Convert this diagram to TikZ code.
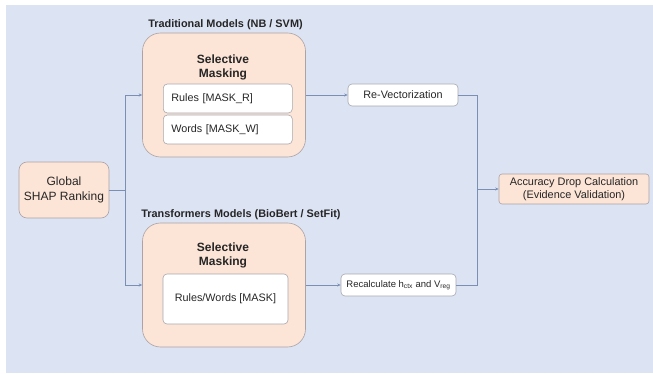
\documentclass[tikz,border=0pt]{standalone}
\usepackage{fontspec}
\setmainfont{Liberation Sans}
\usetikzlibrary{arrows.meta}
\definecolor{bg}{HTML}{DCE3F3}
\definecolor{peach}{HTML}{FCE4D6}
\definecolor{peachline}{HTML}{ABA3A6}
\definecolor{whiteline}{HTML}{A8A8B0}
\definecolor{wire}{HTML}{7B8FB5}
\definecolor{txt}{HTML}{262626}
\newcommand{\fs}[2]{\fontsize{#1}{#2}\selectfont}
\tikzset{
  bigbox/.style={draw=peachline, fill=peach, line width=0.6pt, rounded corners=18pt,
    minimum width=163pt, minimum height=124pt, inner sep=0pt},
  peachbox/.style={draw=peachline, fill=peach, line width=0.6pt, rounded corners=8pt,
    align=center, inner sep=0pt, text=txt},
  whitebox/.style={draw=whiteline, fill=white, line width=0.6pt, rounded corners=4pt,
    align=center, inner sep=0pt, text=txt},
  grouplabel/.style={font=\fs{10.9}{13}\bfseries, text=txt, inner sep=0pt},
  masklabel/.style={font=\fs{12}{14}\bfseries, text=txt, align=center, inner sep=0pt},
  wire/.style={draw=wire, line width=0.6pt},
  arr/.style={wire, -{Stealth[length=3.5pt,width=3pt]}}
}
\begin{document}
\begin{tikzpicture}[x=1pt,y=-1pt]
\useasboundingbox (0,0) rectangle (653,374);
\fill[white] (0,0) rectangle (653,374);
\fill[bg] (6,5) rectangle (653,373);

% nodes
\node[peachbox, minimum width=90pt, minimum height=56pt, font=\fs{12}{14.5}] (glob) at (64,190) {Global\\SHAP Ranking};

\node[grouplabel] (tradlab) at (225.5,25) {Traditional Models (NB / SVM)};
\node[bigbox] (topbig) at (224,95) {};
\node[masklabel] (topmask) at (223,67) {Selective\\Masking};
\node[whitebox, minimum width=125pt, minimum height=29pt, font=\fs{10.8}{12}, anchor=west, text width=113pt, align=left, inner xsep=8pt] (rules) at (163,98.5) {Rules [MASK\_R]};
\node[whitebox, minimum width=125pt, minimum height=29pt, font=\fs{10.8}{12}, anchor=west, text width=113pt, align=left, inner xsep=8pt] (words) at (163,129.5) {Words [MASK\_W]};

\node[grouplabel] (translab) at (241,215) {Transformers Models (BioBert / SetFit)};
\node[bigbox] (botbig) at (224,285) {};
\node[masklabel] (botmask) at (223,255.5) {Selective\\Masking};
\node[whitebox, minimum width=125pt, minimum height=50pt, font=\fs{10.8}{12}] (rw) at (225.5,299) {Rules/Words [MASK]};

\node[whitebox, minimum width=110pt, minimum height=22pt, font=\fs{10.8}{12}] (revec) at (403,95) {Re-Vectorization};
\node[whitebox, minimum width=115pt, minimum height=22pt, font=\fs{9.5}{11}] (recalc) at (398.5,285) {Recalculate h\textsubscript{ctx} and V\textsubscript{reg}};

\node[peachbox, rounded corners=3pt, minimum width=150pt, minimum height=30pt, font=\fs{10.9}{13}] (acc) at (574,189) {Accuracy Drop Calculation\\(Evidence Validation)};

% connectors
\coordinate (split) at (125,190);
\coordinate (merge) at (477,189);
\draw[wire] (glob.east) -- (split);
\draw[arr] (split) |- (topbig.west);
\draw[arr] (split) |- (botbig.west);
\draw[arr] (topbig.east) -- (revec.west);
\draw[arr] (botbig.east) -- (recalc.west);
\draw[wire] (revec.east) -| (merge);
\draw[wire] (recalc.east) -| (merge);
\draw[arr] (merge) -- (acc.west);
\end{tikzpicture}
\end{document}
